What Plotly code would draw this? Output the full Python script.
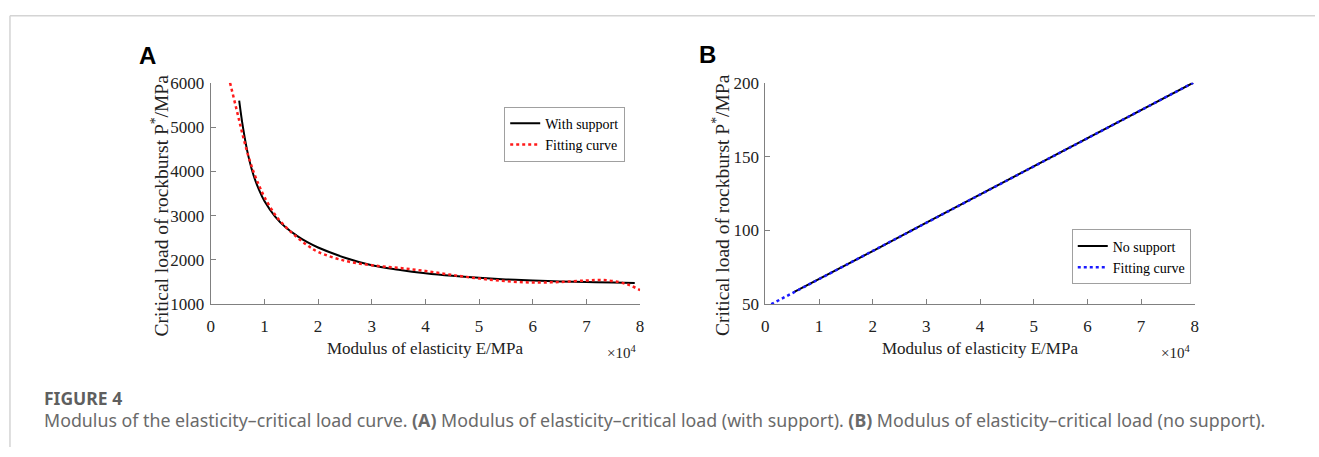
import plotly.graph_objects as go

W, H = 1319, 457

# ---------------- data ----------------
# Panel A: with support
a_E_support = [0.53, 0.6, 0.7, 0.8, 0.9, 1.0, 1.2, 1.4, 1.6, 1.8, 2.0, 2.5, 3.0, 3.5,
               4.0, 4.5, 5.0, 5.5, 6.0, 6.5, 7.0, 7.5, 7.9]
a_P_support = [5600, 5000, 4350, 3900, 3580, 3330, 2980, 2730, 2550, 2400, 2280, 2050,
               1880, 1780, 1700, 1640, 1595, 1560, 1535, 1515, 1500, 1490, 1480]
a_E_fit = [0.36, 0.5, 0.6, 0.7, 0.8, 0.9, 1.0, 1.2, 1.4, 1.6, 1.8, 2.0, 2.5, 3.0, 3.5,
           4.0, 4.5, 5.0, 5.5, 6.0, 6.5, 7.0, 7.3, 7.6, 7.8, 8.0]
a_P_fit = [6000, 5300, 4800, 4350, 3980, 3680, 3420, 3020, 2740, 2520, 2330, 2180, 1980,
           1880, 1820, 1750, 1660, 1580, 1520, 1490, 1500, 1535, 1545, 1500, 1430, 1320]

# Panel B: no support
b_E_nosupport = [0.53, 1, 2, 3, 4, 5, 6, 7, 7.97]
b_P_nosupport = [58.2, 67.0, 86.0, 105.2, 124.3, 143.4, 162.5, 181.6, 200.0]
b_E_fit = [0.11, 0.53, 1, 2, 3, 4, 5, 6, 7, 7.97]
b_P_fit = [50.0, 58.0, 67.0, 86.0, 105.1, 124.2, 143.3, 162.4, 181.5, 200.0]

a_yticks = [1000, 2000, 3000, 4000, 5000, 6000]
b_yticks = [50, 100, 150, 200]
x_ticks = [0, 1, 2, 3, 4, 5, 6, 7, 8]

# ---------------- helpers ----------------
def px(x):
    return x / W

def py(y):
    return 1 - y / H

SERIF = "Liberation Serif, Times New Roman, serif"
SANS = "Noto Sans, Open Sans, sans-serif"

fig = go.Figure()

fig.add_trace(go.Scatter(x=a_E_support, y=a_P_support, mode="lines", name="With support",
                         line=dict(color="black", width=2, shape="spline"),
                         xaxis="x", yaxis="y", legend="legend"))
fig.add_trace(go.Scatter(x=a_E_fit, y=a_P_fit, mode="lines", name="Fitting curve",
                         line=dict(color="#ff1a1a", width=2.5, dash="dot", shape="spline"),
                         xaxis="x", yaxis="y", legend="legend"))
fig.add_trace(go.Scatter(x=b_E_nosupport, y=b_P_nosupport, mode="lines", name="No support",
                         line=dict(color="black", width=2),
                         xaxis="x2", yaxis="y2", legend="legend2"))
fig.add_trace(go.Scatter(x=b_E_fit, y=b_P_fit, mode="lines", name="Fitting curve",
                         line=dict(color="#1a1aff", width=2.5, dash="dot"),
                         xaxis="x2", yaxis="y2", legend="legend2"))

axis_common = dict(showline=True, linecolor="#808080", linewidth=1, ticks="inside",
                   ticklen=5, tickcolor="#808080", showgrid=False, zeroline=False,
                   tickfont=dict(family=SERIF, size=17, color="#222222"))

ydom = [py(308), py(77)]
fig.update_layout(
    width=W, height=H, margin=dict(l=0, r=0, t=0, b=0),
    paper_bgcolor="white", plot_bgcolor="white",
    xaxis=dict(domain=[px(208), px(640)], range=[0, 8], tickvals=x_ticks,
               anchor="y", ticklabelstandoff=6, **axis_common),
    yaxis=dict(domain=ydom, range=[1000, 6000], tickvals=a_yticks,
               anchor="x", ticklabelstandoff=2, **axis_common),
    xaxis2=dict(domain=[px(766), px(1198)], range=[0, 8], tickvals=x_ticks,
                anchor="y2", ticklabelstandoff=6, **axis_common),
    yaxis2=dict(domain=ydom, range=[50, 200], tickvals=b_yticks,
                anchor="x2", ticklabelstandoff=2, **axis_common),
    legend=dict(x=px(625), y=py(102), xanchor="right", yanchor="top",
                bgcolor="white", bordercolor="#a0a0a0", borderwidth=1,
                font=dict(family=SERIF, size=14, color="black"),
                itemwidth=30, tracegroupgap=0),
    legend2=dict(x=px(1194), y=py(230), xanchor="right", yanchor="top",
                 bgcolor="white", bordercolor="#a0a0a0", borderwidth=1,
                 font=dict(family=SERIF, size=14, color="black"),
                 itemwidth=30, tracegroupgap=0),
    showlegend=True,
)

def note(text, x, y, size, family=SERIF, color="#222222", angle=0,
         xanchor="center", yanchor="middle"):
    return dict(text=text, x=px(x), y=py(y), xref="paper", yref="paper",
                xanchor=xanchor, yanchor=yanchor, textangle=angle, showarrow=False,
                font=dict(family=family, size=size, color=color))

ann = []
ytitle = "Critical load of rockburst P<sup>*</sup>/MPa"
xtitle = "Modulus of elasticity E/MPa"
for cx, lx, lbl, sx, sy, xend in [(424, 157, "A", 144, 48, 640),
                                  (982, 722, "B", 708, 47, 1198)]:
    ann.append(note(xtitle, cx, 354, 17))
    ann.append(note(ytitle, lx, 205, 19.5, angle=-90))
    ann.append(note("<b>%s</b>" % lbl, sx, sy, 24,
                    family="Liberation Sans, Arial, sans-serif", color="black"))
    ann.append(note("×10<sup>4</sup>", xend - 19, 358, 15))

ann.append(note("<b>FIGURE 4</b>", 38, 406, 17.5, family=SANS, color="#5f5f5f",
                xanchor="left"))
caption = ("Modulus of the elasticity\u2013critical load curve. <b>(A)</b> Modulus of "
           "elasticity\u2013critical load (with support). <b>(B)</b> Modulus of "
           "elasticity\u2013critical load (no support).")
ann.append(note(caption, 38, 429, 17.8, family=SANS, color="#6a6a6a", xanchor="left"))
fig.update_layout(annotations=ann)

fig.update_layout(shapes=[
    dict(type="line", xref="paper", yref="paper", x0=px(6), x1=1, y0=py(7), y1=py(7),
         line=dict(color="#d4d4d4", width=1.5)),
    dict(type="line", xref="paper", yref="paper", x0=px(6), x1=px(6), y0=py(7), y1=0,
         line=dict(color="#d4d4d4", width=1.5)),
])

fig.write_html("out.html")
